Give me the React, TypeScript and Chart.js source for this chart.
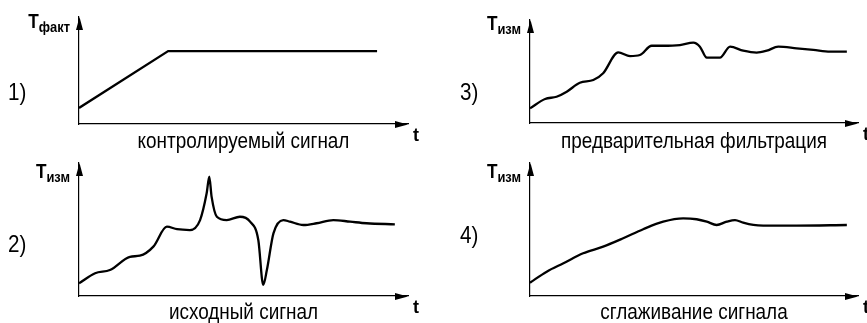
import React, { useEffect, useRef } from "react";
import { Chart, registerables } from "chart.js";

Chart.register(...registerables);

// Panel 1: controlled signal
const P1_T = [0, 27.1, 90.6];
const P1_V = [15, 68.2, 68.2];

// Panel 2: raw signal
const P2_T = [0, 4.9, 9.4, 15.5, 18.5, 22.6, 26.7, 29.8, 33.7, 36.8, 38.8, 39.6, 40.3, 41.9, 44.9, 48.9, 52, 54.5, 56, 57.1, 59.1, 62.1, 64.1, 68.2, 72.2, 77.3, 82.4, 87.4, 96];
const P2_V = [9.5, 17.1, 19.5, 29.5, 30.3, 37.1, 52.1, 50.2, 49.6, 57.1, 77.2, 89.7, 74.7, 59.6, 57.1, 59.6, 55.9, 42.1, 8.3, 19.5, 47.1, 57.1, 55.9, 53.4, 54.7, 57.1, 55.9, 54.7, 53.9];

// Panel 3: preliminary filtering
const P3_T = [0, 4.6, 8.1, 11.2, 15.2, 19.3, 22.3, 26.9, 30.5, 33.5, 37.1, 40.6, 45.7, 49.8, 51.8, 53.9, 57.9, 61, 65, 69.1, 72.2, 75.7, 81.3, 86.4, 91.5, 96.6];
const P3_V = [14.3, 23.3, 25.5, 30.4, 39.1, 41.7, 48.3, 68.6, 65, 66, 75, 75, 75.7, 78, 74.1, 63.4, 63.4, 74.1, 70.2, 68.3, 70.2, 74.1, 72.5, 70.9, 69.2, 69.2];

// Panel 4: smoothing
const P4_T = [0, 5.1, 10.2, 16.2, 22.3, 28.4, 34.5, 40.6, 46.7, 50.8, 53.9, 56.9, 60, 62.5, 65, 68.1, 71.1, 81.3, 96.6];
const P4_V = [10, 18.3, 24.6, 32.1, 37.1, 43.4, 50.2, 55.9, 58.4, 57.7, 55.9, 53.4, 55.9, 57.1, 55.1, 53.4, 52.9, 52.9, 53.4];

const CAPTIONS = ["контролируемый сигнал", "исходный сигнал", "предварительная фильтрация", "сглаживание сигнала"];
const NUMBERS = ["1)", "2)", "3)", "4)"];
const Y_MAIN = "T";
const Y_SUBS = ["факт", "изм", "изм", "изм"];
const X_LABEL = "t";

const FONT = "'Liberation Sans', Arial, sans-serif";
const NARROW = 0.86;

function narrowText(ctx: CanvasRenderingContext2D, text: string, x: number, y: number) {
  ctx.save();
  ctx.translate(x, y);
  ctx.scale(NARROW, 1);
  ctx.fillText(text, 0, 0);
  ctx.restore();
}

const decoPlugin = {
  id: "deco",
  afterDraw(chart: any, _args: any, o: any) {
    const { ctx, chartArea: a } = chart;
    ctx.save();
    ctx.fillStyle = "#000";
    const lx = Math.round(a.left) + 0.5;
    const by = Math.round(a.bottom) + 0.5;
    // y arrow
    ctx.beginPath();
    ctx.moveTo(lx, a.top);
    ctx.lineTo(lx - 3.5, a.top + 13);
    ctx.lineTo(lx + 3.5, a.top + 13);
    ctx.closePath();
    ctx.fill();
    // x arrow
    ctx.beginPath();
    ctx.moveTo(a.right, by);
    ctx.lineTo(a.right - 13, by - 3.5);
    ctx.lineTo(a.right - 13, by + 3.5);
    ctx.closePath();
    ctx.fill();

    // y label T + subscript (narrowed)
    ctx.textBaseline = "alphabetic";
    ctx.textAlign = "left";
    ctx.font = `bold 20px ${FONT}`;
    const wT = ctx.measureText(Y_MAIN).width * NARROW;
    ctx.font = `bold 15px ${FONT}`;
    const wS = ctx.measureText(o.sub).width * NARROW;
    const x0 = a.left - 9 - wT - wS;
    const yb = a.top + o.tBase;
    ctx.font = `bold 20px ${FONT}`;
    narrowText(ctx, Y_MAIN, x0, yb);
    ctx.font = `bold 15px ${FONT}`;
    narrowText(ctx, o.sub, x0 + wT, yb + 4);

    // x label t
    ctx.font = `bold 18px ${FONT}`;
    ctx.fillText(X_LABEL, a.right + 5, a.bottom + 17);

    // number
    ctx.font = `24px ${FONT}`;
    narrowText(ctx, o.num, o.numX, o.numY);

    // caption
    ctx.font = `22px ${FONT}`;
    const cw = ctx.measureText(o.caption).width * NARROW;
    narrowText(ctx, o.caption, (a.left + a.right) / 2 - cw / 2, a.bottom + o.capDy);
    ctx.restore();
  },
};

type PanelCfg = {
  t: number[];
  v: number[];
  smooth: boolean;
  w: number;
  h: number;
  left: number;
  top: number;
  pad: { left: number; top: number; right: number; bottom: number };
  deco: any;
};

function Panel({ cfg }: { cfg: PanelCfg }) {
  const ref = useRef<HTMLCanvasElement>(null);
  useEffect(() => {
    if (!ref.current) return;
    const data = cfg.t.map((x, i) => ({ x, y: cfg.v[i] }));
    const axis = (min: number, max: number) => ({
      type: "linear" as const,
      min,
      max,
      display: true,
      grid: { display: false, drawTicks: false },
      ticks: { display: false },
      border: { display: true, color: "#000", width: 1.2 },
    });
    const chart = new Chart(ref.current, {
      type: "line",
      data: {
        datasets: [
          {
            data,
            borderColor: "#000",
            borderWidth: 2.3,
            pointRadius: 0,
            fill: false,
            tension: cfg.smooth ? 0.4 : 0,
            cubicInterpolationMode: cfg.smooth ? "monotone" : "default",
          } as any,
        ],
      },
      options: {
        animation: false,
        responsive: false,
        layout: { padding: cfg.pad },
        scales: { x: axis(0, 100), y: axis(0, 100) },
        plugins: {
          legend: { display: false },
          tooltip: { enabled: false },
          deco: cfg.deco,
        } as any,
      },
      plugins: [decoPlugin],
    });
    return () => chart.destroy();
  }, [cfg]);
  return (
    <canvas
      ref={ref}
      width={cfg.w}
      height={cfg.h}
      style={{ position: "absolute", left: cfg.left, top: cfg.top, width: cfg.w, height: cfg.h }}
    />
  );
}

const PANELS: PanelCfg[] = [
  {
    t: P1_T, v: P1_V, smooth: false, w: 433, h: 160, left: 0, top: 0,
    pad: { left: 79, top: 17, right: 25, bottom: 36 },
    deco: { sub: Y_SUBS[0], num: NUMBERS[0], numX: 8, numY: 100, caption: CAPTIONS[0], capDy: 24, tBase: 11 },
  },
  {
    t: P3_T, v: P3_V, smooth: true, w: 434, h: 160, left: 433, top: 0,
    pad: { left: 97, top: 20, right: 9, bottom: 37 },
    deco: { sub: Y_SUBS[2], num: NUMBERS[2], numX: 27, numY: 100, caption: CAPTIONS[2], capDy: 25, tBase: 10 },
  },
  {
    t: P2_T, v: P2_V, smooth: true, w: 433, h: 163, left: 0, top: 160,
    pad: { left: 79, top: 3, right: 25, bottom: 27 },
    deco: { sub: Y_SUBS[1], num: NUMBERS[1], numX: 8, numY: 92, caption: CAPTIONS[1], capDy: 23, tBase: 15 },
  },
  {
    t: P4_T, v: P4_V, smooth: true, w: 434, h: 163, left: 433, top: 160,
    pad: { left: 97, top: 3, right: 9, bottom: 27 },
    deco: { sub: Y_SUBS[3], num: NUMBERS[3], numX: 27, numY: 83, caption: CAPTIONS[3], capDy: 23, tBase: 15 },
  },
];

export default function App() {
  return (
    <div style={{ position: "absolute", left: 0, top: 0, width: 867, height: 323, background: "#fff", overflow: "hidden" }}>
      {PANELS.map((p, i) => (
        <Panel key={i} cfg={p} />
      ))}
    </div>
  );
}
